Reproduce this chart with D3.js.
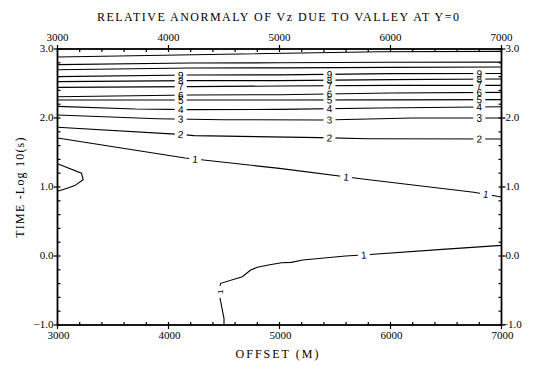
<!DOCTYPE html>
<html>
<head>
<meta charset="utf-8">
<script src="https://cdn.jsdelivr.net/npm/d3@7"></script>
<style>
  body { margin: 0; background: #fff; }
  text { fill: #000; }
</style>
</head>
<body>
<svg id="chart" width="541" height="365"></svg>
<script>
// axis ticks
const offsetTicks = [3000, 4000, 5000, 6000, 7000];
const timeTicks = [3, 2, 1, 0, -1];

// contour lines: offset (m) and time (-log10 s)
const topA_x = [3000, 4500, 5900, 7000];
const topA_y = [2.885, 2.925, 2.96, 2.965];
const topB_x = [3000, 4200, 5000, 6000, 7000];
const topB_y = [2.773, 2.797, 2.80, 2.807, 2.81];
const topC_x = [3000, 4200, 5000, 6000, 7000];
const topC_y = [2.70, 2.725, 2.727, 2.734, 2.739];
const lev9_x = [3000, 4200, 5000, 6000, 7000];
const lev9_y = [2.599, 2.623, 2.625, 2.643, 2.645];
const lev8_x = [3000, 4200, 5000, 6000, 7000];
const lev8_y = [2.527, 2.541, 2.541, 2.556, 2.565];
const lev7_x = [3000, 4200, 5000, 6000, 7000];
const lev7_y = [2.444, 2.454, 2.464, 2.473, 2.473];
const lev6_x = [3000, 4200, 5000, 6000, 7000];
const lev6_y = [2.309, 2.333, 2.338, 2.362, 2.372];
const lev5_x = [3000, 4200, 5000, 6000, 7000];
const lev5_y = [2.261, 2.261, 2.261, 2.263, 2.266];
const lev4_x = [3000, 3700, 4200, 5000, 5900, 7000];
const lev4_y = [2.169, 2.13, 2.121, 2.125, 2.145, 2.164];
const lev3_x = [3000, 3900, 4500, 5400, 6200, 7000];
const lev3_y = [2.043, 1.99, 1.975, 1.971, 2.0, 2.0];
const lev2_x = [3000, 4100, 4232, 5368, 5800, 7000];
const lev2_y = [1.865, 1.763, 1.744, 1.715, 1.70, 1.696];
const lev1a_x = [3000, 4150, 5000, 5750, 6750, 7000];
const lev1a_y = [1.71, 1.42, 1.27, 1.115, 0.925, 0.856];
const lev1b_x = [3000, 3216, 3231, 3156, 3066, 3000];
const lev1b_y = [1.337, 1.20, 1.106, 1.02, 0.971, 0.9375];
const lev1c_x = [4500, 4500, 4476, 4462, 4462, 4470, 4665, 4740, 4800, 4900, 5018, 5106, 5210, 5595, 5750, 6500, 7000];
const lev1c_y = [-1.0, -0.903, -0.71, -0.59, -0.445, -0.396, -0.30, -0.203, -0.164, -0.13, -0.097, -0.092, -0.058, 0.0, 0.015, 0.10, 0.154];

// where the level numbers sit (offsets, or [offset, time])
const midLabels = [4110, 5450, 6800];
const lev1aLabels = [4240, 5600, 6860];
const lev1cLabels = [[4464, -0.52], 5760];

const contours = [
  { level: "",  x: topA_x, y: topA_y, labels: [] },
  { level: "",  x: topB_x, y: topB_y, labels: [] },
  { level: "",  x: topC_x, y: topC_y, labels: [] },
  { level: "9", x: lev9_x, y: lev9_y, labels: midLabels },
  { level: "8", x: lev8_x, y: lev8_y, labels: midLabels },
  { level: "7", x: lev7_x, y: lev7_y, labels: midLabels },
  { level: "6", x: lev6_x, y: lev6_y, labels: midLabels },
  { level: "5", x: lev5_x, y: lev5_y, labels: midLabels },
  { level: "4", x: lev4_x, y: lev4_y, labels: midLabels },
  { level: "3", x: lev3_x, y: lev3_y, labels: midLabels },
  { level: "2", x: lev2_x, y: lev2_y, labels: midLabels },
  { level: "1", x: lev1a_x, y: lev1a_y, labels: lev1aLabels },
  { level: "1", x: lev1b_x, y: lev1b_y, labels: [] },
  { level: "1", x: lev1c_x, y: lev1c_y, labels: lev1cLabels }
];

const margin = { top: 49, right: 39.5, bottom: 40, left: 57.5 };
const W = 541, H = 365;
const svg = d3.select("#chart");

const x = d3.scaleLinear().domain([3000, 7000]).range([margin.left, W - margin.right]);
const y = d3.scaleLinear().domain([-1, 3]).range([H - margin.bottom, margin.top]);

const serif = "'Liberation Serif', 'Times New Roman', serif";
const sans = "'Liberation Sans', Arial, sans-serif";

// title
svg.append("text")
  .attr("x", 278).attr("y", 21)
  .attr("text-anchor", "middle")
  .attr("font-family", serif).attr("font-size", 12)
  .attr("textLength", 362).attr("lengthAdjust", "spacing")
  .text("RELATIVE ANORMALY OF Vz DUE TO VALLEY AT Y=0");

// contour lines with gaps where their labels go
function placeLabel(c, lab) {
  let px, py, seg = 0;
  if (Array.isArray(lab)) {
    px = x(lab[0]); py = y(lab[1]);
    let best = Infinity;
    for (let i = 0; i < c.x.length - 1; i++) {
      const mx = (x(c.x[i]) + x(c.x[i + 1])) / 2, my = (y(c.y[i]) + y(c.y[i + 1])) / 2;
      const d = (mx - px) ** 2 + (my - py) ** 2;
      if (d < best) { best = d; seg = i; }
    }
  } else {
    for (let i = 0; i < c.x.length - 1; i++) {
      if (lab >= Math.min(c.x[i], c.x[i + 1]) && lab <= Math.max(c.x[i], c.x[i + 1])) { seg = i; break; }
    }
    const t = (lab - c.x[seg]) / (c.x[seg + 1] - c.x[seg]);
    px = x(lab);
    py = y(c.y[seg] + t * (c.y[seg + 1] - c.y[seg]));
  }
  let ang = Math.atan2(y(c.y[seg + 1]) - y(c.y[seg]), x(c.x[seg + 1]) - x(c.x[seg])) * 180 / Math.PI;
  if (ang > 90) ang -= 180;
  if (ang < -90) ang += 180;
  return { px, py, ang };
}

const defs = svg.append("defs");
defs.append("clipPath").attr("id", "plotClip")
  .append("rect")
  .attr("x", x(3000)).attr("y", y(3))
  .attr("width", x(7000) - x(3000)).attr("height", y(-1) - y(3));

const line = d3.line().x(d => x(d[0])).y(d => y(d[1]));
const plot = svg.append("g").attr("clip-path", "url(#plotClip)");

contours.forEach((c, i) => {
  const pts = c.x.map((v, k) => [v, c.y[k]]);
  const spots = c.labels.map(l => placeLabel(c, l));
  const mask = defs.append("mask").attr("id", "m" + i)
    .attr("maskUnits", "userSpaceOnUse")
    .attr("x", 0).attr("y", 0).attr("width", W).attr("height", H);
  mask.append("rect").attr("width", W).attr("height", H).attr("fill", "#fff");
  spots.forEach(s => {
    mask.append("rect")
      .attr("x", -6).attr("y", -4.5).attr("width", 12).attr("height", 9)
      .attr("fill", "#000")
      .attr("transform", `translate(${s.px},${s.py}) rotate(${s.ang})`);
  });
  plot.append("path")
    .attr("d", line(pts))
    .attr("fill", "none")
    .attr("stroke", "#000")
    .attr("stroke-width", 1.1)
    .attr("mask", "url(#m" + i + ")");
  spots.forEach(s => {
    const steep = Math.abs(s.ang) > 45;
    svg.append("text")
      .attr("transform", `translate(${s.px},${s.py}) rotate(${s.ang})`)
      .attr("text-anchor", "middle").attr("dy", "0.36em")
      .attr("font-family", sans).attr("font-size", steep ? 8 : 10)
      .text(c.level);
  });
});

// frame and ticks
const axisStroke = 1.8;
const minorX = d3.range(3000, 7001, 200);
const minorY = d3.range(-1, 3.001, 0.2);
const frame = svg.append("g").attr("stroke", "#000");

frame.append("rect")
  .attr("x", x(3000)).attr("y", y(3))
  .attr("width", x(7000) - x(3000)).attr("height", y(-1) - y(3))
  .attr("fill", "none").attr("stroke-width", axisStroke);

minorX.forEach(v => {
  const major = offsetTicks.includes(Math.round(v));
  frame.append("line").attr("x1", x(v)).attr("x2", x(v))
    .attr("y1", y(3) - (major ? 4 : 0)).attr("y2", y(3) + 3).attr("stroke-width", 1.2);
  frame.append("line").attr("x1", x(v)).attr("x2", x(v))
    .attr("y1", y(-1) - 3).attr("y2", y(-1) + (major ? 4 : 0)).attr("stroke-width", 1.2);
});
minorY.forEach(v => {
  const major = timeTicks.some(t => Math.abs(t - v) < 1e-6);
  frame.append("line").attr("y1", y(v)).attr("y2", y(v))
    .attr("x1", x(3000) - (major ? 4 : 0)).attr("x2", x(3000) + 3).attr("stroke-width", 1.2);
  frame.append("line").attr("y1", y(v)).attr("y2", y(v))
    .attr("x1", x(7000) - 3).attr("x2", x(7000) + (major ? 4 : 0)).attr("stroke-width", 1.2);
});

// tick labels
const fmtY = d3.format(".1f");
offsetTicks.forEach(v => {
  svg.append("text").attr("x", x(v)).attr("y", y(3) - 8)
    .attr("text-anchor", "middle").attr("font-family", serif).attr("font-size", 11)
    .text(v);
  svg.append("text").attr("x", x(v) + 1).attr("y", y(-1) + 14)
    .attr("text-anchor", "middle").attr("font-family", serif).attr("font-size", 11)
    .text(v);
});
timeTicks.forEach(v => {
  svg.append("text").attr("x", x(3000) - 4).attr("y", y(v)).attr("dy", "0.3em")
    .attr("text-anchor", "end").attr("font-family", serif).attr("font-size", 11)
    .text(fmtY(v));
  const r = svg.append("text").attr("x", x(7000) + 4).attr("y", y(v)).attr("dy", "0.3em")
    .attr("text-anchor", "start").attr("font-family", serif).attr("font-size", 11)
    .text(fmtY(v));
  if (v < 0) r.attr("x", x(7000) + 4 - 3.7);
});

// axis titles
svg.append("text")
  .attr("x", 278).attr("y", 358)
  .attr("text-anchor", "middle").attr("font-family", serif).attr("font-size", 12)
  .attr("letter-spacing", 2)
  .text("OFFSET  (M)");
svg.append("text")
  .attr("transform", `translate(24,${y(1)}) rotate(-90)`)
  .attr("text-anchor", "middle").attr("font-family", serif).attr("font-size", 12)
  .attr("letter-spacing", 1.2)
  .text("TIME  -Log 10(s)");
</script>
</body>
</html>
